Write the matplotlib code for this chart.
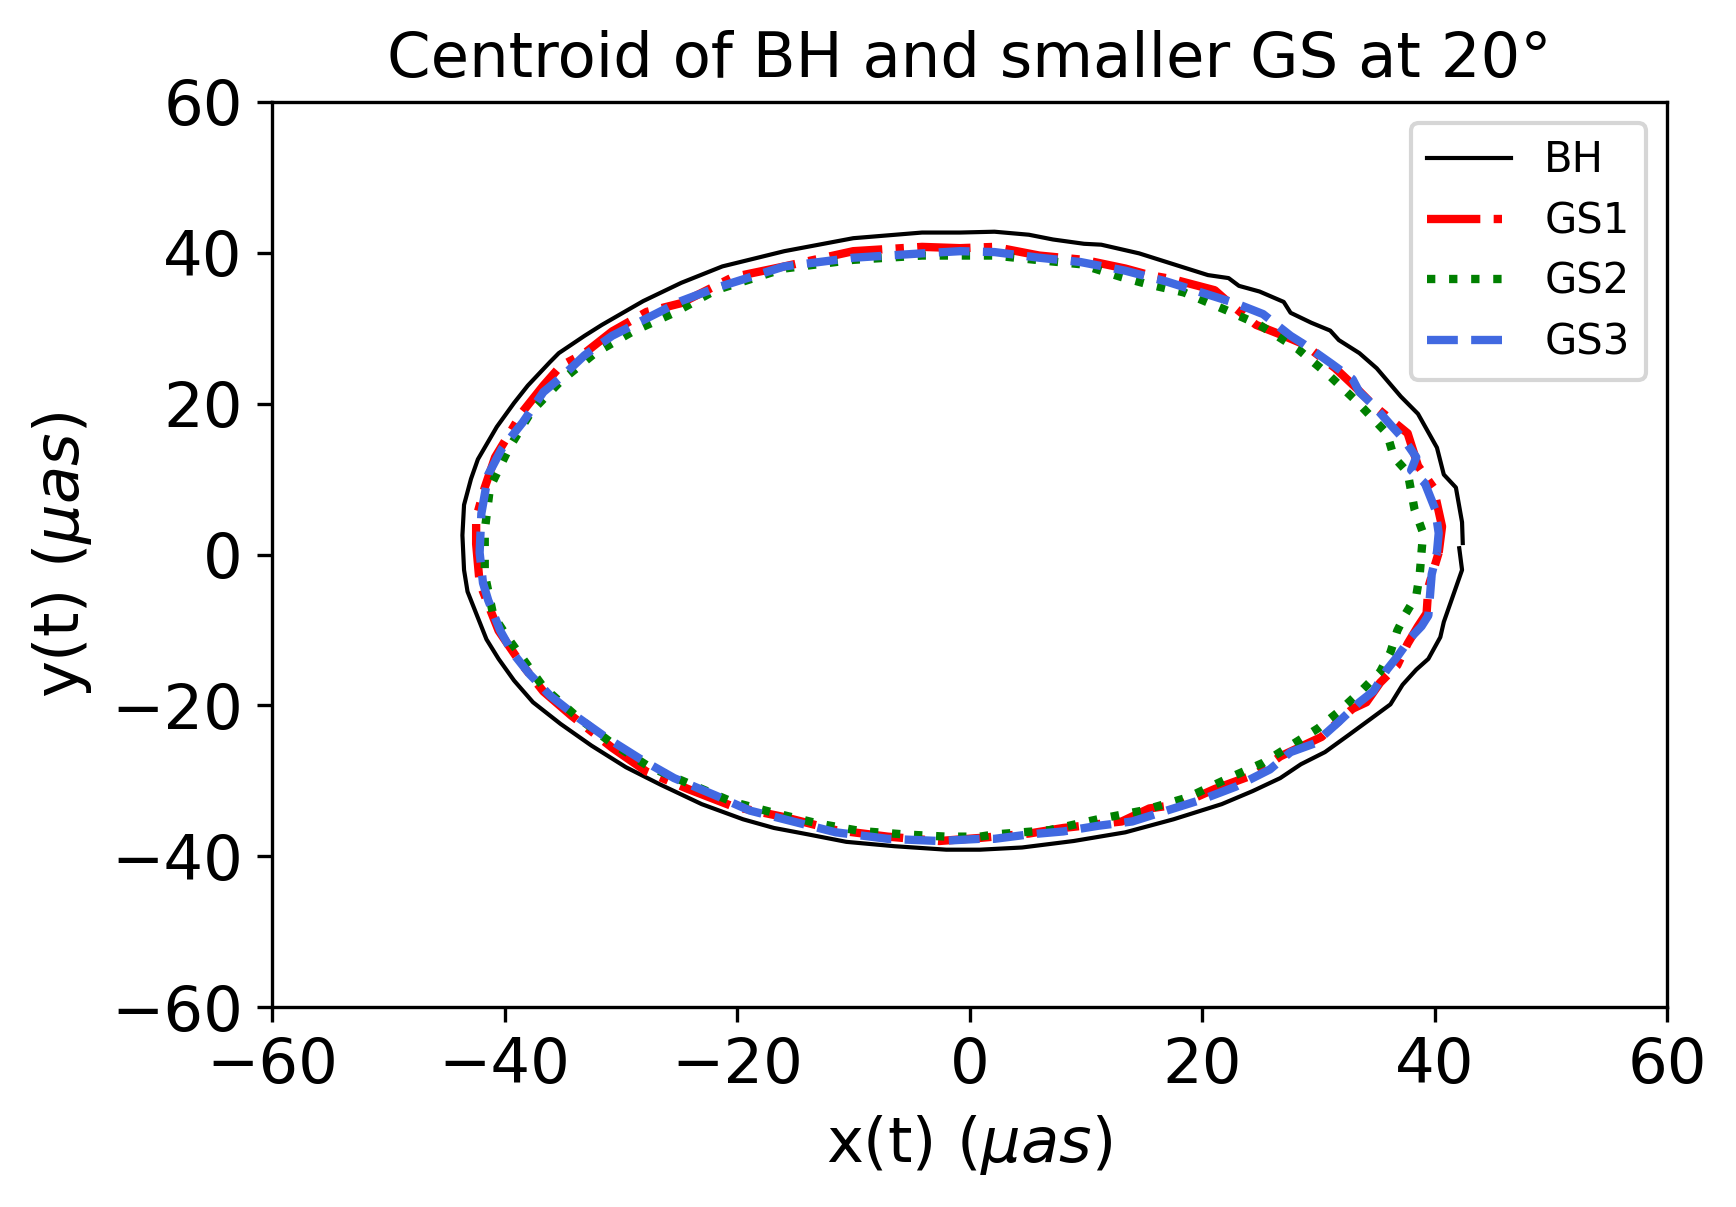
import matplotlib
matplotlib.use('Agg')
import matplotlib.pyplot as plt

# BH centroid track, counter-clockwise from the right
x_bh = [42.43, 42.37, 41.84, 40.8, 40.21, 38.58, 37.1, 35.03, 33.54, 31.77, 31.03, 29.4,
        27.62, 27.03, 24.95, 23.18, 22.29, 20.51, 18.14, 14.59, 11.33, 9.85, 7.18, 5.11,
        2.15, -0.82, -4.08, -10.0, -15.93, -21.26, -24.8, -28.07, -31.63, -33.11, -35.33,
        -36.07, -38.0, -39.18, -40.66, -42.29, -42.88, -43.48, -43.62, -43.48, -43.18,
        -42.44, -41.55, -40.51, -39.18, -37.55, -35.18, -32.52, -29.55, -26.59, -23.04,
        -19.48, -16.82, -13.86, -10.6, -6.45, -2.0, 0.9, 4.52, 8.96, 13.4, 17.55, 21.7,
        24.36, 26.73, 28.51, 30.58, 32.65, 34.43, 36.21, 37.25, 38.43, 39.47, 40.5, 40.8,
        41.39, 42.37, 42.13]
y_bh = [1.52, 4.28, 8.88, 10.6, 14.17, 18.65, 20.95, 24.69, 26.7, 28.43, 29.69, 30.73,
        32.05, 33.49, 34.87, 35.62, 36.65, 37.05, 38.2, 39.93, 41.08, 41.2, 41.77, 42.4,
        42.8, 42.69, 42.69, 41.94, 40.22, 38.2, 36.02, 33.6, 30.44, 29.0, 26.7,
        25.55, 22.39, 20.09, 16.93, 12.62, 10.03, 6.58, 2.55, -2.05, -4.92,
        -7.8, -11.25, -13.84, -16.71, -19.59, -22.46, -25.34, -28.21, -30.51, -33.1,
        -35.11, -36.26, -37.12, -38.1, -38.68, -39.14, -39.14, -38.85, -37.99, -36.84, -35.11, -33.1,
        -31.37, -29.65, -27.81, -26.2, -23.9, -21.89, -19.87, -17.28, -15.27, -13.84, -10.96, -8.95,
        -6.36, -2.05, 0.83]

# GS1
x_gs1 = [40.36, 40.65, 39.91, 38.58, 37.69, 34.73, 33.25, 31.47, 28.8, 27.03, 24.66, 22.58,
         21.1, 17.55, 15.47, 13.4, 9.85, 6.0, 2.15, -0.82, -4.08, -10.0, -15.93, -20.37,
         -24.82, -27.78, -30.74, -33.11, -35.18, -36.66, -38.44, -40.81, -41.7, -42.44,
         -42.44, -42.14, -41.4, -40.51, -38.73, -36.66, -34.29, -30.74, -27.78, -24.22,
         -20.37, -15.93, -11.49, -7.04, -2.6, 0.9, 5.11, 8.07, 13.1, 15.47, 18.14, 21.1,
         24.66, 26.73, 30.28, 32.95, 34.14, 35.32, 36.8, 37.69, 38.58, 39.32, 39.47, 40.36]
y_gs1 = [0.25, 3.71, 8.88, 11.76, 16.07, 19.81, 22.11, 24.69, 27.85, 29.0, 30.44, 33.03,
         35.04, 36.48, 37.05, 37.92, 39.07, 39.64, 40.79, 40.62, 40.79, 40.22, 38.2, 36.77,
         33.32, 32.17, 29.58, 26.7, 24.98, 22.39, 18.94, 12.9, 8.88, 4.85,
         1.4, -3.77, -6.65, -10.1, -14.12, -18.15, -21.31, -25.62, -28.79, -31.09,
         -33.39, -34.82, -36.55, -37.41, -37.99, -37.58, -37.0, -36.26, -35.4, -33.67, -33.1, -31.09,
         -29.08, -26.77, -24.19, -20.45, -19.59, -17.0, -14.7, -11.82, -9.52, -7.8, -4.35, 0.25]

# GS2
x_gs2 = [38.88, 39.02, 38.28, 37.69, 36.51, 35.91, 33.25, 30.88, 28.21, 24.95, 22.0, 18.44,
         15.18, 13.1, 9.55, 5.7, 2.15, -0.82, -4.08, -10.0, -15.93, -21.85, -25.41, -28.96,
         -32.22, -35.18, -37.7, -39.63, -41.25, -41.7, -41.7, -40.96, -39.63, -36.66,
         -33.7, -30.74, -27.48, -23.92, -20.37, -16.82, -12.97, -9.41, -5.56, -2.0, 0.9,
         2.15, 6.88, 11.03, 14.88, 18.73, 22.29, 25.25, 27.03, 29.99, 31.62, 33.84, 35.32,
         36.21, 36.8, 37.54, 38.43, 38.73, 38.88]
y_gs2 = [0.25, 2.84, 6.0, 10.89, 12.9, 16.07, 20.38, 23.83, 27.28, 30.44, 32.45, 34.75,
         35.9, 36.77, 38.49, 39.07, 39.64, 39.64, 39.64, 39.07, 37.92, 35.04, 32.05, 29.58,
         26.7, 22.97, 18.94, 14.05, 8.88, 3.13, -2.62, -8.09, -11.25, -17.57,
         -21.6, -25.05, -28.21, -30.51, -32.81, -34.25, -35.69, -36.66, -37.12, -37.41, -37.41,
         -37.12, -36.55, -35.11, -33.96, -32.24, -29.65, -27.63, -25.91, -23.04, -21.02, -17.86, -15.56,
         -12.97, -10.1, -7.8, -5.5, -2.62, 0.25]

# GS3
x_gs3 = [40.21, 40.36, 40.06, 39.17, 37.99, 38.43, 37.4, 36.21, 34.73, 33.54, 32.95, 31.17,
         28.8, 27.62, 25.25, 22.88, 20.51, 16.96, 13.4, 9.55, 6.0, 2.15, -0.82, -4.08,
         -10.0, -15.93, -21.85, -24.82, -27.78, -30.74, -33.11, -34.89, -36.66, -38.44,
         -40.22, -41.4, -41.99, -42.14, -41.85, -41.4, -40.37, -39.33, -37.85, -36.07,
         -33.7, -31.33, -28.37, -25.41, -21.85, -18.89, -15.93, -11.49, -7.04, -2.6, 0.9,
         2.15, 5.11, 8.07, 11.03, 14.0, 16.96, 19.92, 22.88, 25.84, 27.62, 29.69, 31.77,
         33.54, 34.73, 35.91, 36.8, 37.99, 38.88, 39.47, 39.61, 39.76, 40.21]
y_gs3 = [0.25, 2.84, 6.0, 9.45, 11.18, 12.9, 15.2, 17.22, 19.81, 21.53, 23.26, 25.27,
         27.85, 29.0, 31.88, 33.32, 34.47, 36.19, 37.63, 38.78, 39.35, 40.1, 40.22, 39.93,
         39.35, 38.2, 35.33, 33.6, 31.3, 29.0, 26.42, 23.83, 21.53, 17.5,
         14.05, 10.6, 5.43, 0.25, -3.77, -6.07, -10.1, -12.97, -15.85, -18.72,
         -21.6, -24.19, -27.06, -29.65, -31.95, -33.96, -35.11, -36.84, -37.7, -37.99, -37.7,
         -37.7, -37.12, -36.72, -35.98, -35.4, -33.96, -32.53, -30.8, -28.5, -26.2, -25.05, -22.18,
         -19.59, -18.15, -15.27, -13.55, -10.96, -9.52, -8.09, -5.5, -2.62, 0.25]

fig = plt.figure(figsize=(1736 / 300, 1207 / 300), dpi=300)
ax = fig.add_axes([272 / 1736, 1 - 1007 / 1207, 1395 / 1736, 905 / 1207])

ax.plot(x_bh, y_bh, color='black', linestyle='-', linewidth=1.0, label='BH')
ax.plot(x_gs1, y_gs1, color='red', linestyle='-.', linewidth=2.0, label='GS1')
ax.plot(x_gs2, y_gs2, color='green', linestyle=':', linewidth=2.0, label='GS2')
ax.plot(x_gs3, y_gs3, color='royalblue', linestyle='--', linewidth=2.0, label='GS3')

ax.set_xlim(-60, 60)
ax.set_ylim(-60, 60)
ax.set_xticks([-60, -40, -20, 0, 20, 40, 60])
ax.set_yticks([-60, -40, -20, 0, 20, 40, 60])
ax.tick_params(labelsize=15)
ax.set_xlabel(r'x(t) ($\mu as$)', fontsize=15)
ax.set_ylabel(r'y(t) ($\mu as$)', fontsize=15)
ax.set_title('Centroid of BH and smaller GS at 20°', fontsize=15)
ax.legend(loc='upper right', fontsize=10, labelspacing=0.45)

fig.savefig('out.png', dpi=300)
